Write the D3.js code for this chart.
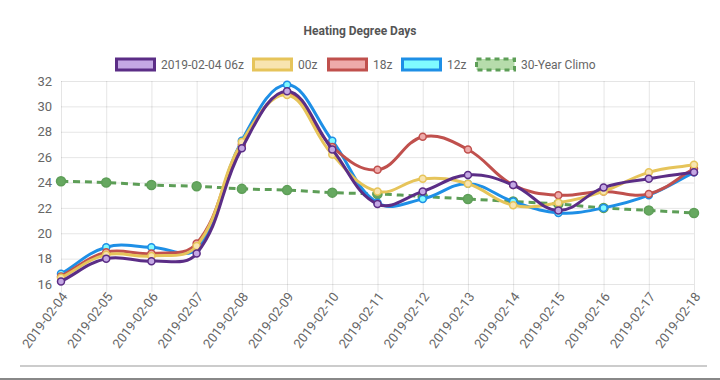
<!DOCTYPE html>
<html><head><meta charset="utf-8">
<script src="https://cdn.jsdelivr.net/npm/d3@7"></script>
<style>html,body{margin:0;padding:0;background:#fff;}svg{display:block;font-family:Roboto,"Noto Sans",sans-serif;}</style>
</head><body>
<svg id="c" width="720" height="380"></svg>
<script>
const dates = ["2019-02-04","2019-02-05","2019-02-06","2019-02-07","2019-02-08","2019-02-09","2019-02-10","2019-02-11","2019-02-12","2019-02-13","2019-02-14","2019-02-15","2019-02-16","2019-02-17","2019-02-18"];
const seriesNames = ["2019-02-04 06z","00z","18z","12z","30-Year Climo"];
const run06z = [16.2,18.0,17.8,18.4,26.7,31.2,26.6,22.3,23.3,24.6,23.8,21.8,23.6,24.3,24.8];
const run00z = [16.5,18.3,18.2,19.0,27.2,30.9,26.2,23.3,24.3,23.9,22.2,22.4,23.3,24.8,25.4];
const run18z = [16.6,18.5,18.4,19.2,27.0,31.1,26.8,25.0,27.6,26.6,23.8,23.0,23.3,23.1,25.1];
const run12z = [16.8,18.9,18.9,18.8,27.3,31.7,27.3,22.4,22.7,23.9,22.5,21.6,22.0,23.0,24.8];
const climo  = [24.1,24.0,23.8,23.7,23.5,23.4,23.2,23.1,22.9,22.7,22.5,22.3,22.0,21.8,21.6];
const yTicks = [16,18,20,22,24,26,28,30,32];

const styles = [
  {line:"#5b2d86", fill:"#c4a8e4", dash:null},
  {line:"#e6c45a", fill:"#f8e4b0", dash:null},
  {line:"#c0504d", fill:"#eeaaaa", dash:null},
  {line:"#1e8fe6", fill:"#80fbff", dash:null},
  {line:"#5d9e57", fill:"#b6dcab", dash:"7,5"}
];
const allData = [run06z, run00z, run18z, run12z, climo];

const svg = d3.select("#c");
const L=61, R=694, T=81, B=284;
const x = d3.scalePoint().domain(dates).range([L,R]);
const y = d3.scaleLinear().domain([16,32]).range([B,T]);

// title
svg.append("text").attr("x",360).attr("y",35).attr("text-anchor","middle")
  .attr("font-size",12).attr("font-weight","bold").attr("fill","#555").text("Heating Degree Days");

// legend
const legendX = [115,252,327,401,475];
seriesNames.forEach((n,i)=>{
  const g = svg.append("g");
  g.append("rect").attr("x",legendX[i]+1.5).attr("y",59).attr("width",38).attr("height",11)
    .attr("fill",styles[i].fill).attr("stroke",styles[i].line).attr("stroke-width",3)
    .attr("stroke-dasharray", styles[i].dash ? "5,4" : null);
  g.append("text").attr("x",legendX[i]+46).attr("y",69).attr("font-size",12).attr("fill","#666").text(n);
});

// grid
const gy = svg.append("g").attr("transform",`translate(${L},0)`)
  .call(d3.axisLeft(y).tickValues(yTicks).tickSize(-(R-L)).tickPadding(9));
gy.select(".domain").remove();
gy.selectAll(".tick line").attr("stroke","rgba(0,0,0,0.1)");
gy.selectAll(".tick text").attr("font-size",13).attr("fill","#666").attr("font-family","Roboto,sans-serif");

const gx = svg.append("g").attr("transform",`translate(0,${T})`)
  .call(d3.axisBottom(x).tickSize(B-T+8).tickPadding(0));
gx.select(".domain").remove();
gx.selectAll(".tick line").attr("stroke","rgba(0,0,0,0.1)");
gx.selectAll(".tick text").attr("font-size",13).attr("fill","#666").attr("font-family","Roboto,sans-serif")
  .attr("text-anchor","end").attr("y",0).attr("dy","0.35em")
  .attr("transform",`translate(3,${B-T+10}) rotate(-53)`);

// Chart.js style spline
function splinePath(pts, t){
  const p = d3.path();
  const cps = pts.map((c,i)=>{
    const prev = pts[i-1]||c, next = pts[i+1]||c;
    const d01 = Math.hypot(c[0]-prev[0], c[1]-prev[1]);
    const d12 = Math.hypot(next[0]-c[0], next[1]-c[1]);
    let s01 = d01/(d01+d12), s12 = d12/(d01+d12);
    if(isNaN(s01)) s01=0; if(isNaN(s12)) s12=0;
    const fa=t*s01, fb=t*s12;
    return {p:[c[0]-fa*(next[0]-prev[0]), c[1]-fa*(next[1]-prev[1])],
            n:[c[0]+fb*(next[0]-prev[0]), c[1]+fb*(next[1]-prev[1])]};
  });
  p.moveTo(pts[0][0],pts[0][1]);
  for(let i=1;i<pts.length;i++){
    p.bezierCurveTo(cps[i-1].n[0],cps[i-1].n[1],cps[i].p[0],cps[i].p[1],pts[i][0],pts[i][1]);
  }
  return p.toString();
}

for(let i=allData.length-1;i>=0;i--){
  const d = allData[i], s = styles[i];
  const pts = d.map((v,j)=>[x(dates[j]), y(v)]);
  const g = svg.append("g");
  g.append("path").attr("d",splinePath(pts,0.4)).attr("fill","none")
    .attr("stroke",s.line).attr("stroke-width",3).attr("stroke-dasharray",s.dash);
  g.selectAll("circle").data(d).join("circle")
    .attr("cx",(v,j)=>x(dates[j])).attr("cy",v=>y(v))
    .attr("r", i===4 ? 4.5 : 3.5)
    .attr("fill", i===4 ? "#66a860" : s.fill)
    .attr("stroke", s.line).attr("stroke-width",1.5);
}

// bottom rules
svg.append("line").attr("x1",20).attr("x2",707).attr("y1",366).attr("y2",366).attr("stroke","#ccc").attr("stroke-width",2);
svg.append("line").attr("x1",0).attr("x2",720).attr("y1",379).attr("y2",379).attr("stroke","#888").attr("stroke-width",2);
</script>
</body></html>
